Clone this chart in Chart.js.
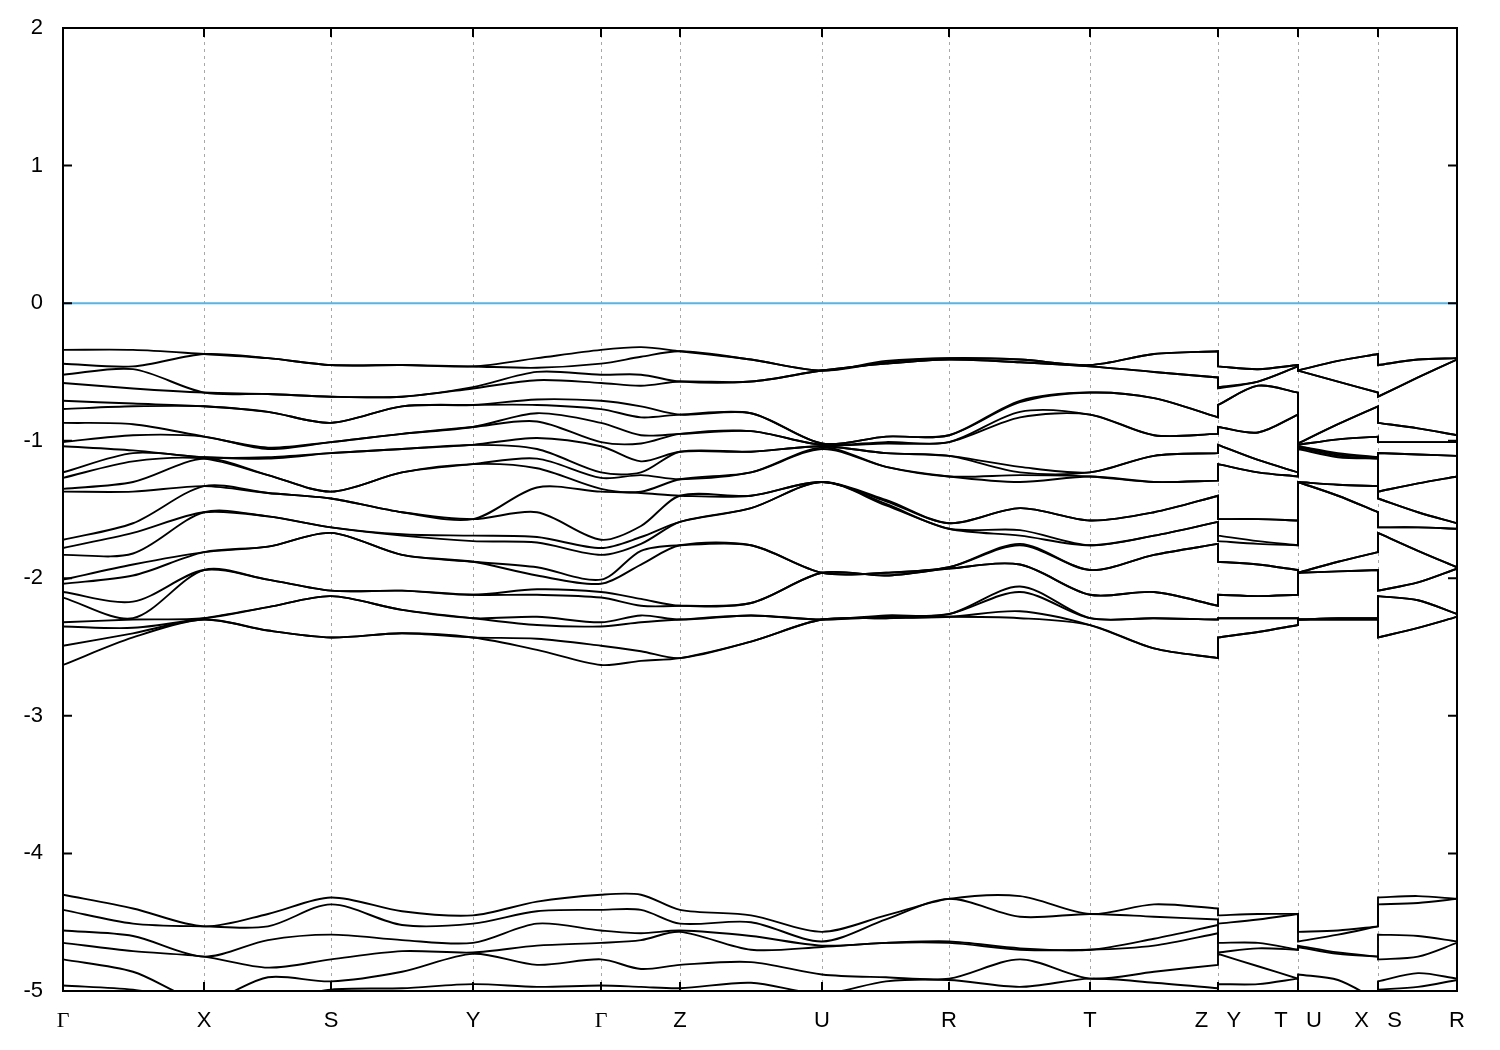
<!DOCTYPE html>
<html>
<head>
<meta charset="utf-8">
<script src="https://cdn.jsdelivr.net/npm/chart.js@4.4.1/dist/chart.umd.min.js"></script>
<style>
  html, body { margin: 0; padding: 0; background: #fff; }
</style>
</head>
<body>
<canvas id="bands" width="1500" height="1050"></canvas>
<script>
'use strict'
// k-path ticks (path length, arbitrary units) and their labels
let kTicks = [0, 1.41, 2.68, 4.10, 5.38, 6.17, 7.59, 8.86, 10.27, 11.55, 12.35, 13.15, 13.94];
let kLabels = ['Γ', 'X', 'S', 'Y', 'Γ', 'Z', 'U', 'R', 'T', 'Z   Y', 'T   U', 'X   S', 'R'];
// sampled columns: high-symmetry points + segment midpoints (breaks appear twice)
let kCols = [0, 0.70, 1.41, 2.05, 2.68, 3.39, 4.10, 4.74, 5.38, 5.78, 6.17, 6.88, 7.59, 8.23,
             8.86, 9.57, 10.27, 10.91, 11.55, 11.55, 11.95, 12.35, 12.35, 12.75, 13.15, 13.15, 13.55, 13.94];
let fermiLevel = 0;

// upper valence manifold, 24 bands (eV), sorted at each column
let upG  = [-0.34,-0.44,-0.52,-0.58,-0.71,-0.77,-0.87,-1.01,-1.04,-1.23,-1.27,-1.35,-1.37,-1.72,-1.78,-1.83,-2.01,-2.04,-2.10,-2.14,-2.32,-2.35,-2.49,-2.63];
let upGX = [-0.34,-0.46,-0.48,-0.62,-0.73,-0.75,-0.88,-0.96,-1.07,-1.09,-1.15,-1.30,-1.37,-1.60,-1.67,-1.82,-1.90,-1.98,-2.17,-2.29,-2.30,-2.36,-2.40,-2.43];
let upX  = [-0.37,-0.37,-0.65,-0.65,-0.75,-0.75,-0.97,-0.97,-1.12,-1.12,-1.13,-1.13,-1.33,-1.33,-1.52,-1.52,-1.81,-1.81,-1.94,-1.94,-2.29,-2.29,-2.30,-2.30];
let upXS = [-0.40,-0.40,-0.66,-0.66,-0.79,-0.79,-1.05,-1.06,-1.12,-1.13,-1.25,-1.25,-1.38,-1.38,-1.55,-1.55,-1.77,-1.77,-2.01,-2.01,-2.21,-2.21,-2.38,-2.38];
let upS  = [-0.45,-0.45,-0.68,-0.68,-0.87,-0.87,-1.01,-1.01,-1.09,-1.09,-1.37,-1.37,-1.42,-1.42,-1.63,-1.63,-1.67,-1.67,-2.09,-2.09,-2.13,-2.13,-2.43,-2.43];
let upSY = [-0.45,-0.45,-0.68,-0.68,-0.75,-0.75,-0.95,-0.95,-1.06,-1.06,-1.23,-1.23,-1.52,-1.52,-1.68,-1.69,-1.83,-1.83,-2.09,-2.09,-2.23,-2.23,-2.40,-2.40];
let upY  = [-0.46,-0.46,-0.61,-0.62,-0.74,-0.74,-0.90,-0.90,-1.03,-1.03,-1.17,-1.17,-1.57,-1.57,-1.69,-1.73,-1.88,-1.88,-2.12,-2.12,-2.29,-2.29,-2.43,-2.43];
let upYG = [-0.40,-0.47,-0.50,-0.56,-0.70,-0.74,-0.80,-0.86,-0.98,-1.06,-1.13,-1.20,-1.34,-1.52,-1.70,-1.74,-1.92,-1.98,-2.08,-2.12,-2.28,-2.34,-2.44,-2.52];
let upGZ = [-0.32,-0.39,-0.52,-0.60,-0.75,-0.83,-0.96,-1.02,-1.15,-1.23,-1.25,-1.37,-1.38,-1.62,-1.70,-1.75,-1.80,-1.90,-2.15,-2.20,-2.27,-2.32,-2.53,-2.60];
let upZ  = [-0.35,-0.35,-0.57,-0.57,-0.81,-0.81,-0.95,-0.95,-1.08,-1.08,-1.28,-1.28,-1.40,-1.40,-1.59,-1.59,-1.76,-1.76,-2.20,-2.20,-2.30,-2.30,-2.58,-2.58];
let upZU = [-0.41,-0.41,-0.57,-0.57,-0.80,-0.80,-0.93,-0.93,-1.08,-1.08,-1.23,-1.23,-1.40,-1.40,-1.49,-1.49,-1.76,-1.76,-2.18,-2.18,-2.27,-2.27,-2.46,-2.46];
let upU  = [-0.49,-0.49,-0.49,-0.49,-1.02,-1.02,-1.03,-1.03,-1.04,-1.04,-1.05,-1.06,-1.30,-1.30,-1.30,-1.30,-1.96,-1.96,-1.96,-1.96,-2.30,-2.30,-2.30,-2.30];
let upUR = [-0.42,-0.43,-0.44,-0.44,-0.97,-0.97,-1.01,-1.02,-1.09,-1.09,-1.19,-1.19,-1.43,-1.44,-1.46,-1.47,-1.96,-1.96,-1.98,-1.98,-2.27,-2.28,-2.29,-2.29];
let upR  = [-0.40,-0.40,-0.41,-0.41,-0.96,-0.96,-1.01,-1.01,-1.11,-1.11,-1.26,-1.26,-1.60,-1.60,-1.64,-1.64,-1.92,-1.92,-1.93,-1.93,-2.26,-2.26,-2.28,-2.28];
let upRT = [-0.41,-0.41,-0.43,-0.43,-0.71,-0.72,-0.79,-0.83,-1.19,-1.23,-1.25,-1.30,-1.49,-1.49,-1.65,-1.69,-1.75,-1.76,-1.90,-1.90,-2.06,-2.10,-2.24,-2.29];
let upT  = [-0.45,-0.45,-0.46,-0.46,-0.65,-0.65,-0.81,-0.81,-1.23,-1.23,-1.26,-1.26,-1.58,-1.58,-1.76,-1.76,-1.94,-1.94,-2.12,-2.12,-2.29,-2.29,-2.34,-2.34];
let upTZ = [-0.37,-0.37,-0.50,-0.50,-0.69,-0.69,-0.96,-0.96,-1.11,-1.11,-1.30,-1.30,-1.52,-1.52,-1.69,-1.69,-1.83,-1.83,-2.10,-2.10,-2.29,-2.29,-2.51,-2.51];
let upZ2 = [-0.35,-0.35,-0.54,-0.54,-0.83,-0.83,-0.95,-0.95,-1.09,-1.09,-1.29,-1.29,-1.40,-1.40,-1.59,-1.59,-1.75,-1.75,-2.20,-2.20,-2.30,-2.30,-2.58,-2.58];
let upYT = [-0.48,-0.48,-0.57,-0.57,-0.60,-0.60,-0.94,-0.94,-1.14,-1.14,-1.23,-1.23,-1.57,-1.57,-1.73,-1.75,-1.90,-1.90,-2.13,-2.13,-2.29,-2.29,-2.39,-2.39];
let upUX = [-0.42,-0.42,-0.57,-0.57,-0.88,-0.88,-0.99,-0.99,-1.09,-1.10,-1.11,-1.12,-1.32,-1.32,-1.40,-1.40,-1.88,-1.88,-1.95,-1.95,-2.29,-2.29,-2.30,-2.30];
let upSR = [-0.41,-0.41,-0.54,-0.54,-0.91,-0.91,-1.01,-1.01,-1.10,-1.10,-1.31,-1.31,-1.52,-1.52,-1.63,-1.63,-1.80,-1.80,-2.03,-2.03,-2.16,-2.16,-2.36,-2.36];

// lower manifold, 6 bands (eV)
let loG  = [-4.30,-4.41,-4.56,-4.65,-4.77,-4.96];
let loGX = [-4.40,-4.51,-4.60,-4.71,-4.86,-4.99];
let loX  = [-4.53,-4.53,-4.75,-4.75,-5.07,-5.07];
let loXS = [-4.44,-4.53,-4.63,-4.83,-4.90,-5.07];
let loS  = [-4.32,-4.37,-4.59,-4.77,-4.93,-4.99];
let loSY = [-4.42,-4.52,-4.63,-4.71,-4.86,-4.98];
let loY  = [-4.45,-4.51,-4.65,-4.72,-4.73,-4.95];
let loYG = [-4.35,-4.42,-4.51,-4.67,-4.81,-4.97];
let loGZ = [-4.30,-4.41,-4.58,-4.63,-4.84,-4.97];
let loZ  = [-4.41,-4.51,-4.56,-4.57,-4.81,-4.98];
let loZU = [-4.45,-4.50,-4.60,-4.70,-4.79,-4.94];
let loU  = [-4.57,-4.64,-4.67,-4.68,-4.88,-5.02];
let loUR = [-4.45,-4.48,-4.65,-4.65,-4.90,-4.93];
let loR  = [-4.33,-4.33,-4.64,-4.65,-4.91,-4.92];
let loRT = [-4.31,-4.46,-4.69,-4.70,-4.77,-4.97];
let loT  = [-4.44,-4.44,-4.70,-4.70,-4.91,-4.91];
let loTZ = [-4.37,-4.46,-4.62,-4.67,-4.86,-4.94];
let loZ2 = [-4.40,-4.48,-4.52,-4.58,-4.81,-4.98];
let loYT = [-4.44,-4.48,-4.65,-4.69,-4.82,-4.95];
let loUX = [-4.56,-4.59,-4.72,-4.73,-4.92,-5.04];
let loSR = [-4.31,-4.36,-4.60,-4.75,-4.87,-4.97];

// column order along the path, same length as kCols
let upperCols = [upG, upGX, upX, upXS, upS, upSY, upY, upYG, upG, upGZ, upZ, upZU, upU, upUR,
                 upR, upRT, upT, upTZ, upZ2, upY, upYT, upT, upU, upUX, upX, upS, upSR, upR];
let lowerCols = [loG, loGX, loX, loXS, loS, loSY, loY, loYG, loG, loGZ, loZ, loZU, loU, loUR,
                 loR, loRT, loT, loTZ, loZ2, loY, loYT, loT, loU, loUX, loX, loS, loSR, loR];

function bandPoints(cols, b){
    let pts = [];
    for (let i = 0; i < kCols.length; i++){
        pts.push({x: kCols[i], y: cols[i][b]});
        // repeat points at path breaks so the jump stays a straight vertical
        if (kCols[i] === kCols[i-1] || kCols[i] === kCols[i+1]) pts.push({x: kCols[i], y: cols[i][b]});
    }
    return pts;
}

let datasets = [];
function addBands(cols){
    for (let b = 0; b < cols[0].length; b++){
        datasets.push({data: bandPoints(cols, b), borderColor: '#000', borderWidth: 1.9,
                       showLine: true, pointRadius: 0, tension: 0.3});
    }
}
addBands(upperCols);
addBands(lowerCols);
datasets.push({data: [{x: kTicks[0], y: fermiLevel}, {x: kTicks[kTicks.length-1], y: fermiLevel}],
               borderColor: '#56b4e9', borderWidth: 2, showLine: true, pointRadius: 0});

// gnuplot-like frame with inward ticks
let frame = {
    id: 'frame',
    afterDatasetsDraw(chart){
        let ctx = chart.ctx, a = chart.chartArea, x = chart.scales.x, y = chart.scales.y;
        ctx.save();
        ctx.strokeStyle = '#000';
        ctx.lineWidth = 2;
        ctx.beginPath();
        y.ticks.forEach(t => {
            let py = y.getPixelForValue(t.value);
            ctx.moveTo(a.left, py); ctx.lineTo(a.left + 9, py);
            ctx.moveTo(a.right, py); ctx.lineTo(a.right - 9, py);
        });
        x.ticks.forEach(t => {
            let px = x.getPixelForValue(t.value);
            ctx.moveTo(px, a.bottom); ctx.lineTo(px, a.bottom - 9);
            ctx.moveTo(px, a.top); ctx.lineTo(px, a.top + 9);
        });
        ctx.stroke();
        ctx.strokeRect(a.left, a.top, a.right - a.left, a.bottom - a.top);
        ctx.restore();
    }
};

new Chart(document.getElementById('bands'), {
    type: 'scatter',
    data: {datasets: datasets},
    plugins: [frame],
    options: {
        responsive: false,
        animation: false,
        devicePixelRatio: 1,
        layout: {padding: {left: 0, right: 43, top: 28, bottom: 0}},
        plugins: {legend: {display: false}, tooltip: {enabled: false}},
        scales: {
            x: {
                type: 'linear', min: kTicks[0], max: kTicks[kTicks.length-1],
                afterBuildTicks: ax => { ax.ticks = kTicks.map(v => ({value: v})); },
                afterFit: ax => { ax.height = 59; },
                ticks: {
                    autoSkip: false, maxRotation: 0, padding: 17, color: '#000',
                    font: c => ({family: kLabels[c.index] === 'Γ' ? 'Liberation Serif' : 'Liberation Sans', size: 22}),
                    callback: (v, i) => kLabels[i]
                },
                grid: {
                    drawTicks: false, lineWidth: 1,
                    color: c => (c.index === 0 || c.index === kTicks.length - 1) ? 'rgba(0,0,0,0)' : '#a8a8a8'
                },
                border: {display: false, dash: [3, 4]}
            },
            y: {
                min: -5, max: 2,
                afterFit: ax => { ax.width = 63; ax.paddingTop = 13; ax.paddingBottom = 13; },
                ticks: {stepSize: 1, padding: 20, color: '#000',
                        font: {family: 'Liberation Sans', size: 22},
                        callback: v => String(v)},
                grid: {display: false, drawTicks: false},
                border: {display: false}
            }
        }
    }
});
</script>
</body>
</html>
